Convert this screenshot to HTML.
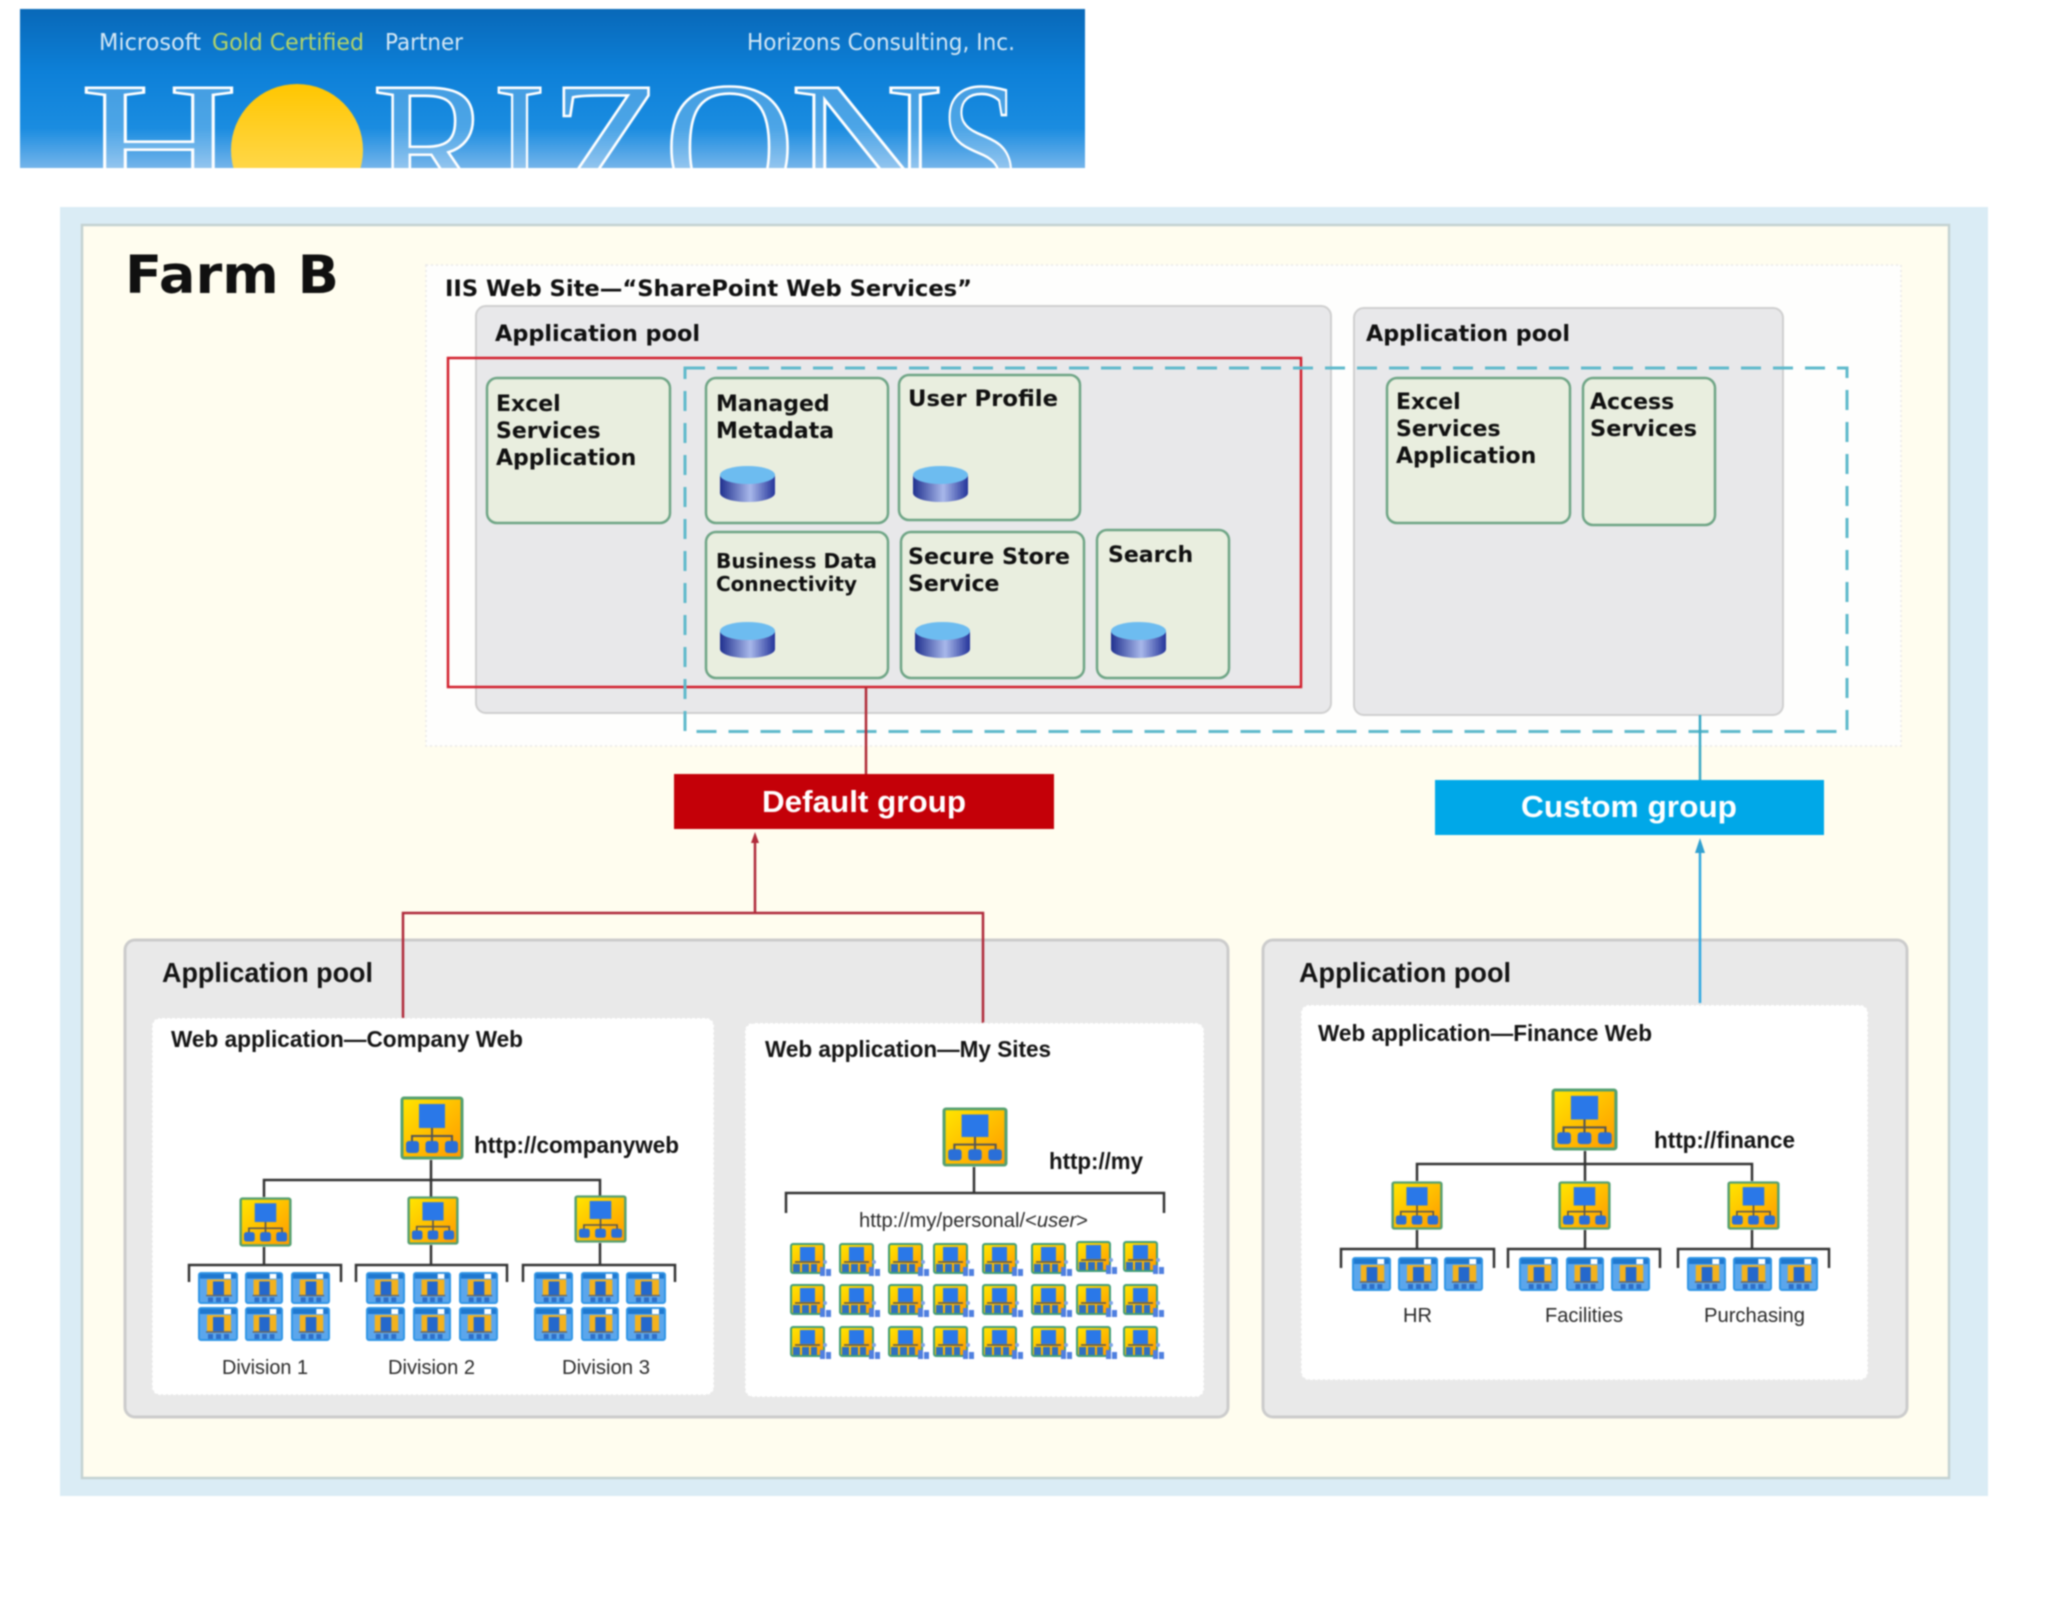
<!DOCTYPE html>
<html><head><meta charset="utf-8"><title>Farm B</title>
<style>
html,body{margin:0;padding:0;background:#fff;width:2048px;height:1622px;overflow:hidden}
svg{display:block;filter:blur(.7px)}
.v{font-family:"DejaVu Sans",sans-serif;font-weight:bold;fill:#101010}
.a{font-family:"Liberation Sans",sans-serif;font-weight:bold;fill:#141414}
.r{font-family:"Liberation Sans",sans-serif;fill:#2a2a2a}
.box{fill:#e9eedf;stroke:#6fa586;stroke-width:2.5}
.pool{fill:#e8e8ea;stroke:#cfcfcf;stroke-width:2}
.bp{fill:#e9e9e9;stroke:#cccccc;stroke-width:3}
.wb{fill:#fff;stroke:#e8e8e8;stroke-width:1.5;stroke-dasharray:2 3}
.k{stroke:#333;stroke-width:2.5;fill:none}
.big{font-family:"Liberation Serif",serif;font-size:182px;fill:rgba(255,255,255,.22);stroke:#fff;stroke-width:2.6}
.ban{font-family:"DejaVu Sans",sans-serif;font-size:23px;fill:#d5e8f5}
</style></head><body>
<svg width="2048" height="1622" viewBox="0 0 2048 1622" xmlns="http://www.w3.org/2000/svg">
<defs>
<linearGradient id="bg" x1="0" y1="0" x2="0" y2="1"><stop offset="0" stop-color="#0868b8"/><stop offset=".4" stop-color="#0d80d8"/><stop offset=".75" stop-color="#1a8ce0"/><stop offset="1" stop-color="#74b4ea"/></linearGradient>
<linearGradient id="sun" x1="0" y1="0" x2="0" y2="1"><stop offset="0" stop-color="#ffc600"/><stop offset="1" stop-color="#ffe070"/></linearGradient>
<linearGradient id="yo" x1="0" y1="0" x2="1" y2="1"><stop offset="0" stop-color="#ffe600"/><stop offset="1" stop-color="#ff9800"/></linearGradient>
<linearGradient id="cy" x1="0" y1="0" x2="1" y2="0"><stop offset="0" stop-color="#20308f"/><stop offset=".55" stop-color="#a8b8ea"/><stop offset="1" stop-color="#24349a"/></linearGradient>
<clipPath id="bc"><rect x="20" y="9" width="1065" height="159"/></clipPath>
<symbol id="db" viewBox="0 0 57 36" preserveAspectRatio="none">
<path d="M1 9V27C1 32 13 36 28.500 36S56 32 56 27V9Z" fill="url(#cy)"/>
<ellipse cx="28.500" cy="9" rx="27.500" ry="9" fill="#6dbcf0"/>
</symbol>
<symbol id="site" viewBox="0 0 64 64" preserveAspectRatio="none">
<rect x="2" y="2" width="60" height="60" rx="2" fill="url(#yo)" stroke="#55a070" stroke-width="3"/>
<rect x="19" y="8" width="26" height="24" fill="#2a78e8"/>
<path d="M32 32V40M12 46V40H52V46M32 40V46" stroke="#555" stroke-width="2" fill="none"/>
<rect x="6" y="45" width="13" height="12" rx="3" fill="#2a6fd8"/><rect x="25.500" y="45" width="13" height="12" rx="3" fill="#2a6fd8"/><rect x="45" y="45" width="13" height="12" rx="3" fill="#2a6fd8"/>
</symbol>
<symbol id="pg" viewBox="0 0 40 34" preserveAspectRatio="none">
<rect x="1" y="1" width="38" height="32" rx="2" fill="#5ba6ec" stroke="#2f95e6" stroke-width="2"/>
<rect x="2" y="2" width="36" height="5" fill="#1f78d0"/><rect x="26" y="2" width="7" height="5" fill="#fff"/>
<rect x="9" y="8" width="24" height="17" fill="#f3b21e"/><rect x="15" y="10" width="11" height="15" fill="#2468cc"/>
<path d="M8 25H34" stroke="#666" stroke-width="1.500"/>
<rect x="10" y="27" width="5" height="5" fill="#2f6fc8"/><rect x="18" y="27" width="5" height="5" fill="#2f6fc8"/><rect x="26" y="27" width="5" height="5" fill="#2f6fc8"/>
</symbol>
<symbol id="us" viewBox="0 0 42 34" preserveAspectRatio="none">
<rect x="1" y="1" width="33" height="29" rx="2" fill="url(#yo)" stroke="#3f9e78" stroke-width="2"/>
<rect x="10" y="4" width="15" height="14" fill="#2a78e8"/>
<path d="M5 19H30" stroke="#555" stroke-width="1.500"/>
<rect x="3" y="21" width="7" height="8" fill="#2f70c0"/><rect x="12" y="21" width="7" height="8" fill="#2f70c0"/><rect x="21" y="21" width="6" height="8" fill="#2f70c0"/>
<circle cx="35" cy="19" r="2" fill="#7ea4e8"/><rect x="30" y="24" width="5" height="9" fill="#4f7fe0"/><rect x="36" y="26" width="5" height="7" fill="#4f7fe0"/>
</symbol>
</defs>

<!-- banner -->
<rect x="20" y="9" width="1065" height="159" fill="url(#bg)"/>
<g clip-path="url(#bc)">
<text class="ban" x="99" y="50" textLength="102" lengthAdjust="spacingAndGlyphs">Microsoft</text>
<text class="ban" x="212" y="50" textLength="152" lengthAdjust="spacingAndGlyphs" style="fill:#b4d468">Gold Certified</text>
<text class="ban" x="385" y="50" textLength="78" lengthAdjust="spacingAndGlyphs">Partner</text>
<text class="ban" x="747" y="50" textLength="268" lengthAdjust="spacingAndGlyphs">Horizons Consulting, Inc.</text>
<text class="big" x="80" y="207" textLength="158" lengthAdjust="spacingAndGlyphs">H</text>
<ellipse cx="297" cy="150" rx="66" ry="66" fill="url(#sun)"/>
<text class="big" x="372" y="207" textLength="122" lengthAdjust="spacingAndGlyphs">R</text>
<text class="big" x="493" y="207" textLength="53" lengthAdjust="spacingAndGlyphs">I</text>
<text class="big" x="549" y="207" textLength="116" lengthAdjust="spacingAndGlyphs">Z</text>
<text class="big" x="664" y="207" textLength="131" lengthAdjust="spacingAndGlyphs">O</text>
<text class="big" x="790" y="207" textLength="153" lengthAdjust="spacingAndGlyphs">N</text>
<text class="big" x="940" y="207" textLength="80" lengthAdjust="spacingAndGlyphs">S</text>
</g>

<!-- frame -->
<rect x="60" y="207" width="1928" height="1289" fill="#daecf5"/>
<rect x="82" y="225" width="1867" height="1253" fill="#fffdef" stroke="#c4d2d2" stroke-width="2.500"/>
<text class="v" x="125" y="293" font-size="53" textLength="214" lengthAdjust="spacingAndGlyphs">Farm B</text>

<!-- IIS -->
<rect x="426" y="265" width="1475" height="481" class="wb" style="fill:#fefefd"/>
<text class="v" x="445" y="296" font-size="22" textLength="527" lengthAdjust="spacingAndGlyphs">IIS Web Site—“SharePoint Web Services”</text>
<rect x="476" y="306" width="855" height="407" rx="10" class="pool"/>
<rect x="1354" y="308" width="429" height="407" rx="10" class="pool"/>
<text class="v" x="495" y="341" font-size="22" textLength="205" lengthAdjust="spacingAndGlyphs">Application pool</text>
<text class="v" x="1366" y="341" font-size="22" textLength="204" lengthAdjust="spacingAndGlyphs">Application pool</text>

<!-- service boxes -->
<rect x="487" y="378" width="183" height="145" rx="10" class="box"/>
<rect x="706" y="378" width="182" height="145" rx="10" class="box"/>
<rect x="899" y="375" width="181" height="145" rx="10" class="box"/>
<rect x="706" y="532" width="182" height="146" rx="10" class="box"/>
<rect x="901" y="532" width="183" height="146" rx="10" class="box"/>
<rect x="1097" y="530" width="132" height="148" rx="10" class="box"/>
<rect x="1387" y="378" width="183" height="145" rx="10" class="box"/>
<rect x="1583" y="378" width="132" height="147" rx="10" class="box"/>

<g class="v" font-size="22">
<text x="496" y="411">Excel</text><text x="496" y="438">Services</text><text x="496" y="465">Application</text>
<text x="716" y="411">Managed</text><text x="716" y="438">Metadata</text>
<text x="908" y="406" textLength="150" lengthAdjust="spacingAndGlyphs">User Profile</text>
<text x="716" y="568" font-size="20" textLength="161" lengthAdjust="spacingAndGlyphs">Business Data</text><text x="716" y="591" font-size="20" textLength="141" lengthAdjust="spacingAndGlyphs">Connectivity</text>
<text x="908" y="564" textLength="162" lengthAdjust="spacingAndGlyphs">Secure Store</text><text x="908" y="591">Service</text>
<text x="1108" y="562">Search</text>
<text x="1396" y="409">Excel</text><text x="1396" y="436">Services</text><text x="1396" y="463">Application</text>
<text x="1590" y="409">Access</text><text x="1590" y="436" textLength="107" lengthAdjust="spacingAndGlyphs">Services</text>
</g>

<use href="#db" x="719" y="466" width="57" height="36"/>
<use href="#db" x="912" y="466" width="57" height="36"/>
<use href="#db" x="719" y="622" width="57" height="36"/>
<use href="#db" x="914" y="622" width="57" height="36"/>
<use href="#db" x="1110" y="622" width="57" height="36"/>

<!-- group outlines -->
<rect x="448" y="358" width="853" height="329" fill="none" stroke="#d2202e" stroke-width="2.500"/>
<path d="M685 368H1847V731.500H685Z" fill="none" stroke="#5fb9cb" stroke-width="3" stroke-dasharray="20 12"/>

<!-- groups -->
<path d="M866 687V775" stroke="#b02a36" stroke-width="2.500"/>
<rect x="674" y="774" width="380" height="55" fill="#c40008"/>
<text x="762" y="812" font-family="Liberation Sans" font-weight="bold" font-size="31" fill="#fff" textLength="204" lengthAdjust="spacingAndGlyphs">Default group</text>
<path d="M1700 715V780" stroke="#3aa8c4" stroke-width="2.500"/>
<rect x="1435" y="780" width="389" height="55" fill="#00a8e8"/>
<text x="1521" y="817" font-family="Liberation Sans" font-weight="bold" font-size="31" fill="#fff" textLength="216" lengthAdjust="spacingAndGlyphs">Custom group</text>

<!-- bottom pools -->
<rect x="125" y="940" width="1103" height="477" rx="10" class="bp"/>
<rect x="1263" y="940" width="644" height="477" rx="10" class="bp"/>
<text class="a" x="162" y="982" font-size="28" textLength="211" lengthAdjust="spacingAndGlyphs">Application pool</text>
<text class="a" x="1299" y="982" font-size="28" textLength="212" lengthAdjust="spacingAndGlyphs">Application pool</text>

<!-- connectors into groups -->
<path d="M403 1018V913H983V1023M755 913V840" fill="none" stroke="#b02a3a" stroke-width="2.500"/>
<path d="M755 832L751 843H759Z" fill="#b02a3a"/>
<path d="M1700 1003V846" stroke="#30a8e0" stroke-width="2.500"/>
<path d="M1700 838L1695 853H1705Z" fill="#30a0d0"/>

<!-- web apps -->
<rect x="152" y="1018" width="562" height="377" rx="8" class="wb"/>
<rect x="745" y="1023" width="459" height="374" rx="8" class="wb"/>
<rect x="1301" y="1005" width="567" height="375" rx="8" class="wb"/>
<text class="a" x="171" y="1047" font-size="23" textLength="352" lengthAdjust="spacingAndGlyphs">Web application—Company Web</text>
<text class="a" x="765" y="1057" font-size="23" textLength="286" lengthAdjust="spacingAndGlyphs">Web application—My Sites</text>
<text class="a" x="1318" y="1041" font-size="23" textLength="334" lengthAdjust="spacingAndGlyphs">Web application—Finance Web</text>

<!-- Company tree -->
<path class="k" d="M431 1160V1197M264 1197V1180H600V1197M264 1247V1265M431 1245V1265M600 1243V1265"/>
<path class="k" d="M189 1282V1265H341V1282M356 1282V1265H507V1282M523 1282V1265H675V1282"/>
<use href="#site" x="400" y="1096" width="64" height="64"/>
<use href="#site" x="239" y="1197" width="53" height="50"/>
<use href="#site" x="407" y="1196" width="52" height="49"/>
<use href="#site" x="574" y="1195" width="53" height="48"/>
<text class="a" x="474" y="1153" font-size="23" textLength="205" lengthAdjust="spacingAndGlyphs">http://companyweb</text>
<use href="#pg" x="198" y="1272" width="40" height="32"/><use href="#pg" x="245" y="1272" width="38" height="32"/><use href="#pg" x="291" y="1272" width="39" height="32"/>
<use href="#pg" x="366" y="1272" width="39" height="32"/><use href="#pg" x="413" y="1272" width="38" height="32"/><use href="#pg" x="459" y="1272" width="39" height="32"/>
<use href="#pg" x="534" y="1272" width="39" height="32"/><use href="#pg" x="581" y="1272" width="38" height="32"/><use href="#pg" x="626" y="1272" width="40" height="32"/>
<use href="#pg" x="198" y="1307" width="40" height="34"/><use href="#pg" x="245" y="1307" width="38" height="34"/><use href="#pg" x="291" y="1307" width="39" height="34"/>
<use href="#pg" x="366" y="1307" width="39" height="34"/><use href="#pg" x="413" y="1307" width="38" height="34"/><use href="#pg" x="459" y="1307" width="39" height="34"/>
<use href="#pg" x="534" y="1307" width="39" height="34"/><use href="#pg" x="581" y="1307" width="38" height="34"/><use href="#pg" x="626" y="1307" width="40" height="34"/>
<g class="r" font-size="20">
<text x="222" y="1374" textLength="86" lengthAdjust="spacingAndGlyphs">Division 1</text>
<text x="388" y="1374" textLength="87" lengthAdjust="spacingAndGlyphs">Division 2</text>
<text x="562" y="1374" textLength="88" lengthAdjust="spacingAndGlyphs">Division 3</text>
</g>

<!-- My Sites tree -->
<path class="k" d="M974 1167V1193M786 1213V1193H1164V1213"/>
<use href="#site" x="942" y="1107" width="66" height="60"/>
<text class="a" x="1049" y="1169" font-size="23" textLength="94" lengthAdjust="spacingAndGlyphs">http://my</text>
<text class="r" x="859" y="1227" font-size="20" textLength="229" lengthAdjust="spacingAndGlyphs">http://my/personal/&lt;<tspan font-style="italic">user</tspan>&gt;</text>
<g>
<use href="#us" x="790" y="1243" width="42" height="34"/><use href="#us" x="839" y="1243" width="42" height="34"/><use href="#us" x="888" y="1243" width="42" height="34"/><use href="#us" x="933" y="1243" width="42" height="34"/><use href="#us" x="982" y="1243" width="42" height="34"/><use href="#us" x="1031" y="1243" width="42" height="34"/><use href="#us" x="1076" y="1241" width="42" height="34"/><use href="#us" x="1123" y="1241" width="42" height="34"/>
<use href="#us" x="790" y="1284" width="42" height="34"/><use href="#us" x="839" y="1284" width="42" height="34"/><use href="#us" x="888" y="1284" width="42" height="34"/><use href="#us" x="933" y="1284" width="42" height="34"/><use href="#us" x="982" y="1284" width="42" height="34"/><use href="#us" x="1031" y="1284" width="42" height="34"/><use href="#us" x="1076" y="1284" width="42" height="34"/><use href="#us" x="1123" y="1284" width="42" height="34"/>
<use href="#us" x="790" y="1326" width="42" height="34"/><use href="#us" x="839" y="1326" width="42" height="34"/><use href="#us" x="888" y="1326" width="42" height="34"/><use href="#us" x="933" y="1326" width="42" height="34"/><use href="#us" x="982" y="1326" width="42" height="34"/><use href="#us" x="1031" y="1326" width="42" height="34"/><use href="#us" x="1076" y="1326" width="42" height="34"/><use href="#us" x="1123" y="1326" width="42" height="34"/>
</g>

<!-- Finance tree -->
<path class="k" d="M1585 1151V1181M1417 1181V1164H1752V1181M1417 1230V1249M1585 1230V1249M1752 1230V1249"/>
<path class="k" d="M1341 1268V1249H1494V1268M1508 1268V1249H1660V1268M1678 1268V1249H1829V1268"/>
<use href="#site" x="1551" y="1088" width="67" height="63"/>
<use href="#site" x="1391" y="1181" width="52" height="49"/>
<use href="#site" x="1558" y="1181" width="53" height="49"/>
<use href="#site" x="1727" y="1181" width="53" height="49"/>
<text class="a" x="1654" y="1148" font-size="23" textLength="141" lengthAdjust="spacingAndGlyphs">http://finance</text>
<use href="#pg" x="1352" y="1257" width="39" height="34"/><use href="#pg" x="1398" y="1257" width="40" height="34"/><use href="#pg" x="1444" y="1257" width="39" height="34"/>
<use href="#pg" x="1519" y="1257" width="39" height="34"/><use href="#pg" x="1566" y="1257" width="38" height="34"/><use href="#pg" x="1611" y="1257" width="39" height="34"/>
<use href="#pg" x="1687" y="1257" width="39" height="34"/><use href="#pg" x="1733" y="1257" width="39" height="34"/><use href="#pg" x="1779" y="1257" width="39" height="34"/>
<g class="r" font-size="20">
<text x="1403" y="1322" textLength="29" lengthAdjust="spacingAndGlyphs">HR</text>
<text x="1545" y="1322" textLength="78" lengthAdjust="spacingAndGlyphs">Facilities</text>
<text x="1704" y="1322" textLength="101" lengthAdjust="spacingAndGlyphs">Purchasing</text>
</g>
</svg>
</body></html>
